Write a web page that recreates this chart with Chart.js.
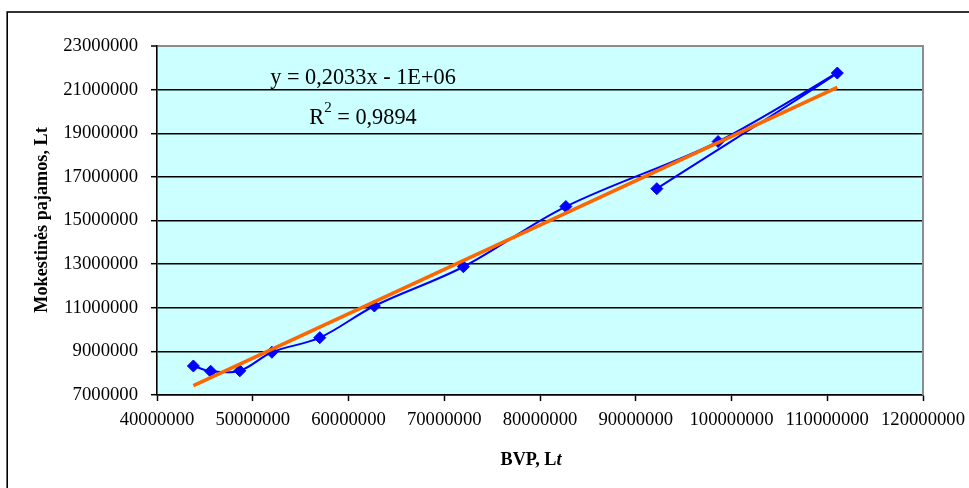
<!DOCTYPE html>
<html>
<head>
<meta charset="utf-8">
<script src="https://cdn.jsdelivr.net/npm/chart.js@4"></script>
<style>
  html, body { margin: 0; padding: 0; background: #fff; }
  #wrap { width: 969px; height: 488px; position: relative; }
</style>
</head>
<body>
<div id="wrap"><canvas id="c" width="969" height="488"></canvas></div>
<script>
// BVP (GDP), Lt, in yearly order
const bvp = [43800000, 45600000, 48650000, 52000000, 57000000, 62700000, 72000000, 82700000, 98600000, 111050000, 92200000];
// Mokestinės pajamos (tax revenue), Lt, same years
const mokestinesPajamos = [8330000, 8090000, 8110000, 8960000, 9630000, 11080000, 12880000, 15640000, 18620000, 21760000, 16460000];

// Axis ticks
const xTickValues = [40000000, 50000000, 60000000, 70000000, 80000000, 90000000, 100000000, 110000000, 120000000];
const yTickValues = [7000000, 9000000, 11000000, 13000000, 15000000, 17000000, 19000000, 21000000, 23000000];

// Linear trend: slope as reported, intercept from the least-squares condition
const trendSlope = 0.2033;
const rSquared = 0.9894;
const meanX = bvp.reduce((s, v) => s + v, 0) / bvp.length;
const meanY = mokestinesPajamos.reduce((s, v) => s + v, 0) / mokestinesPajamos.length;
const trendIntercept = meanY - trendSlope * meanX;
const trendXs = [Math.min(...bvp), Math.max(...bvp)];

const points = bvp.map((x, i) => ({ x, y: mokestinesPajamos[i] }));
const trendPoints = trendXs.map(x => ({ x, y: trendSlope * x + trendIntercept }));

const fmtComma = (v, d) => v.toFixed(d).replace('.', ',');
function fmtSci(v) {
  const [m, e] = Math.abs(v).toExponential(0).split('e');
  const n = parseInt(e, 10);
  return m + 'E' + (n < 0 ? '-' : '+') + String(Math.abs(n)).padStart(2, '0');
}
const eqText = 'y = ' + fmtComma(trendSlope, 4) + 'x ' + (trendIntercept < 0 ? '-' : '+') + ' ' + fmtSci(trendIntercept);

const SERIF = "'Liberation Serif', 'Times New Roman', serif";
const tickFont = { family: SERIF, size: 18.7 };
const TITLE_SIZE = 18.2;
const EQ_SIZE = 22.3;

const decor = {
  id: 'decor',
  beforeDraw(chart) {
    const { ctx, chartArea: a } = chart;
    ctx.save();
    ctx.fillStyle = '#fff';
    ctx.fillRect(0, 0, chart.width, chart.height);
    ctx.fillStyle = '#CCFFFF';
    ctx.fillRect(a.left, a.top, a.right - a.left, a.bottom - a.top);
    ctx.strokeStyle = '#000';
    ctx.lineWidth = 1.6;
    ctx.strokeRect(7.2, 12, chart.width + 40, chart.height + 40);
    ctx.restore();
  },
  afterDraw(chart) {
    const { ctx, chartArea: a } = chart;
    ctx.save();
    // plot-area frame, right side
    ctx.strokeStyle = '#8c8c8c';
    ctx.lineWidth = 2;
    ctx.beginPath();
    ctx.moveTo(a.right, a.top - 1);
    ctx.lineTo(a.right, a.bottom);
    ctx.stroke();

    ctx.fillStyle = '#000';
    // y-axis title
    ctx.save();
    ctx.translate(46.5, 220);
    ctx.rotate(-Math.PI / 2);
    ctx.font = 'bold ' + TITLE_SIZE + 'px ' + SERIF;
    ctx.textAlign = 'center';
    ctx.textBaseline = 'alphabetic';
    ctx.fillText('Mokestinės pajamos, Lt', 0, 0);
    ctx.restore();

    // x-axis title: "BVP, L" + italic "t"
    const part1 = 'BVP, L', part2 = 't';
    ctx.font = 'bold ' + TITLE_SIZE + 'px ' + SERIF;
    const w1 = ctx.measureText(part1).width;
    ctx.font = 'bold italic ' + TITLE_SIZE + 'px ' + SERIF;
    const w2 = ctx.measureText(part2).width;
    const xs = 531 - (w1 + w2) / 2;
    ctx.textAlign = 'left';
    ctx.textBaseline = 'alphabetic';
    ctx.font = 'bold ' + TITLE_SIZE + 'px ' + SERIF;
    ctx.fillText(part1, xs, 465);
    ctx.font = 'bold italic ' + TITLE_SIZE + 'px ' + SERIF;
    ctx.fillText(part2, xs + w1, 465);

    // trend equation
    ctx.font = EQ_SIZE + 'px ' + SERIF;
    ctx.textAlign = 'center';
    ctx.fillText(eqText, 363, 83.5);

    const rA = 'R', rSup = '2', rB = ' = ' + fmtComma(rSquared, 4);
    ctx.font = EQ_SIZE + 'px ' + SERIF;
    const wa = ctx.measureText(rA).width, wb = ctx.measureText(rB).width;
    ctx.font = '15px ' + SERIF;
    const ws = ctx.measureText(rSup).width;
    const rx = 363 - (wa + ws + wb) / 2;
    ctx.textAlign = 'left';
    ctx.font = EQ_SIZE + 'px ' + SERIF;
    ctx.fillText(rA, rx, 123.5);
    ctx.font = '15px ' + SERIF;
    ctx.fillText(rSup, rx + wa, 112);
    ctx.font = EQ_SIZE + 'px ' + SERIF;
    ctx.fillText(rB, rx + wa + ws, 123.5);
    ctx.restore();
  }
};

new Chart(document.getElementById('c'), {
  type: 'scatter',
  data: {
    datasets: [
      {
        label: 'Tiesinė (trend)',
        data: trendPoints,
        showLine: true,
        borderColor: '#FF6600',
        borderWidth: 3.6,
        pointRadius: 0,
        tension: 0
      },
      {
        label: 'Mokestinės pajamos',
        data: points,
        showLine: true,
        borderColor: '#0000FF',
        borderWidth: 2,
        backgroundColor: '#0000FF',
        pointBackgroundColor: '#0000FF',
        pointBorderColor: '#0000FF',
        pointBorderWidth: 1,
        pointStyle: 'rectRot',
        pointRadius: 6,
        tension: 0.35
      }
    ]
  },
  options: {
    responsive: false,
    animation: false,
    devicePixelRatio: 1,
    layout: { padding: { left: 0, top: 46, right: 46, bottom: 0 } },
    plugins: { legend: { display: false }, tooltip: { enabled: false } },
    scales: {
      x: {
        type: 'linear',
        min: xTickValues[0],
        max: xTickValues[xTickValues.length - 1],
        afterBuildTicks: s => { s.ticks = xTickValues.map(v => ({ value: v })); },
        afterFit: s => { s.height = 93; s.paddingLeft = 0; s.paddingRight = 0; },
        ticks: { color: '#000', font: tickFont, padding: 8, maxRotation: 0, autoSkip: false, callback: v => String(v) },
        grid: { drawOnChartArea: false, drawTicks: true, tickLength: 6, tickColor: '#000', tickWidth: 1.5 },
        border: { display: true, color: '#000', width: 1.6 }
      },
      y: {
        type: 'linear',
        min: yTickValues[0],
        max: yTickValues[yTickValues.length - 1],
        afterBuildTicks: s => { s.ticks = yTickValues.map(v => ({ value: v })); },
        afterFit: s => { s.width = 157; s.paddingTop = 0; s.paddingBottom = 0; },
        ticks: { color: '#000', font: tickFont, padding: 13, autoSkip: false, callback: v => String(v) },
        grid: {
          drawOnChartArea: true,
          drawTicks: true,
          tickLength: 6,
          tickColor: '#000',
          tickWidth: 1.5,
          lineWidth: c => (c.tick && c.tick.value === yTickValues[yTickValues.length - 1]) ? 2 : 1.4,
          color: c => (c.tick && c.tick.value === yTickValues[yTickValues.length - 1]) ? '#8c8c8c' : '#000'
        },
        border: { display: true, color: '#000', width: 1.6 }
      }
    }
  },
  plugins: [decor]
});
</script>
</body>
</html>
